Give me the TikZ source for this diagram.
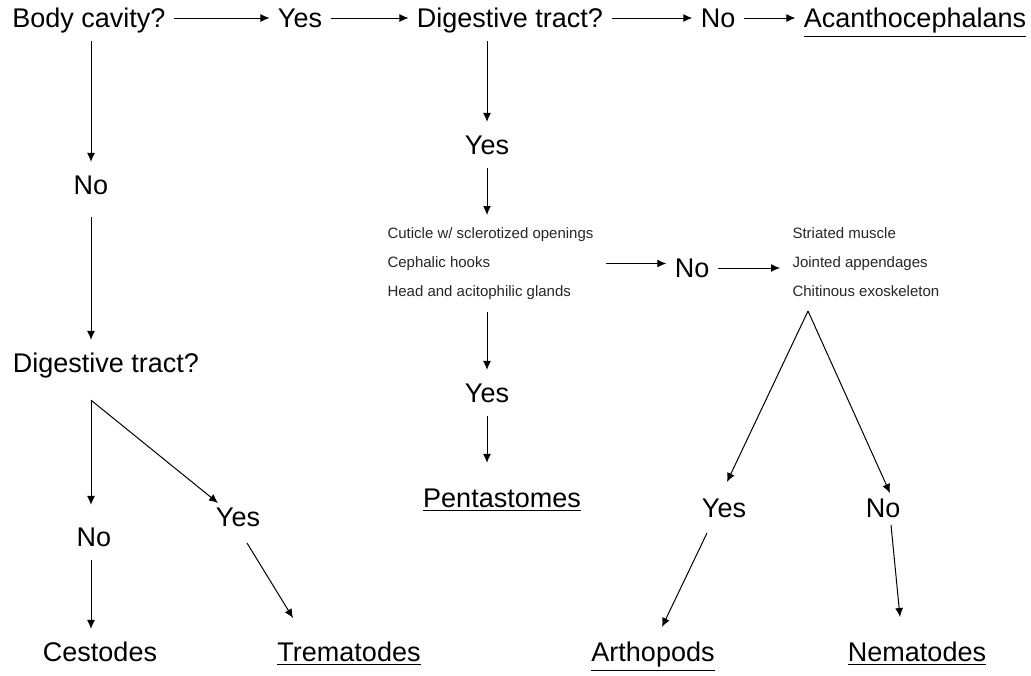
\documentclass[tikz,border=0pt]{standalone}
\usepackage{fontspec}
\setmainfont{Liberation Sans}
\usetikzlibrary{arrows.meta,calc}

\begin{document}
\begin{tikzpicture}[
x=0.5pt, y=-0.5pt,
>={Latex[length=4.5pt,width=4pt]},
line width=0.5pt,
lbl/.style={font=\fontsize{13.5}{16}\selectfont, text height=9.65pt, text depth=0pt, inner xsep=4pt, inner ysep=6.5pt},
trait/.style={font=\fontsize{7.5}{14.5}\selectfont, align=left, anchor=north west, inner sep=6pt, text=black!85}]
\useasboundingbox (0,0) rectangle (1031,675);

% top row
\node [lbl] (body) at (89,18) {Body cavity?};
\node [lbl] (yes1) at (300,18) {Yes};
\node [lbl] (dig1) at (510,18) {Digestive tract?};
\node [lbl] (no1) at (718,18) {No};
\node [lbl] (acan) at (915,18) {\underline{Acanthocephalans}};
\draw [->] (body) -- (yes1);
\draw [->] (yes1) -- (dig1);
\draw [->] (dig1) -- (no1);
\draw [->] (no1) -- (acan);

% left branch
\node [lbl] (no2) at (91,185) {No};
\node [lbl] (dig2) at (106,363) {Digestive tract?};
\node [lbl] (no3) at (94,537) {No};
\node [lbl] (yes3) at (238,517) {Yes};
\node [lbl] (cest) at (100,652) {Cestodes};
\node [lbl] (trem) at (349,652) {\underline{Trematodes}};
\coordinate (split) at ($(dig2.south)+(-15,14)$);
\draw [->] (body.south -| no2) -- (no2);
\draw [->, shorten <=4.5pt] (no2) -- (no2 |- dig2.north);
\draw [->, shorten >=4.5pt] (split) -- (split |- no3.north);
\draw [->] (split) -- ($(yes3)+(-20,-14)$);
\draw [->] (no3.south -| split) -- (split |- cest.north);
\draw [->] ($(yes3)+(9,26)$) -- ($(trem)+(-56,-34)$);

% middle branch
\node [lbl] (yes2) at (487,145) {Yes};
\node [trait] (feat1) at (375,215) {Cuticle w/ sclerotized openings\\Cephalic hooks\\Head and acitophilic glands};
\node [lbl] (yes4) at (487,393) {Yes};
\node [lbl] (pent) at (502,498) {\underline{Pentastomes}};
\draw [->] (dig1.south -| yes2) -- (yes2);
\draw [->] (yes2) -- (yes2 |- feat1.north);
\draw [->] (feat1.south -| yes4) -- (yes4);
\draw [->, shorten >=6pt] (yes4) -- (yes4 |- pent.north);

% right branch
\node [lbl] (no4) at (692,268) {No};
\node [trait] (feat2) at (780,215) {Striated muscle\\Jointed appendages\\Chitinous exoskeleton};
\node [lbl] (yes5) at (724,508) {Yes};
\node [lbl] (no5) at (883,508) {No};
\node [lbl] (arth) at (653,652) {\underline{Arthopods}};
\node [lbl] (nema) at (917,652) {\underline{Nematodes}};
\coordinate (fork) at ($(feat2.south west)+(28,2)$);
\draw [->] (feat1.east) -- (feat1.east -| no4.west);
\draw [->] (no4.east) -- (no4.east -| feat2.west);
\draw [->] (fork) -- ($(yes5)+(3,-26)$);
\draw [->] (fork) -- ($(no5)+(7,-15)$);
\draw [->] ($(yes5)+(-17,25)$) -- ($(arth)+(9,-25)$);
\draw [->] ($(no5)+(8,17)$) -- ($(nema)+(-17,-35)$);
\end{tikzpicture}
\end{document}
